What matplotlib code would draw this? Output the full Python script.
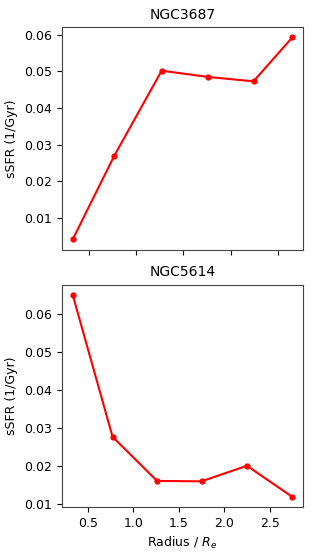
import matplotlib
matplotlib.use("Agg")
import matplotlib.pyplot as plt

radius_3687 = [0.33, 0.77, 1.27, 1.76, 2.24, 2.65]
ssfr_3687 = [0.0041, 0.0270, 0.0502, 0.0485, 0.0473, 0.0593]

radius_5614 = [0.33, 0.77, 1.26, 1.75, 2.25, 2.75]
ssfr_5614 = [0.0651, 0.0277, 0.0161, 0.0160, 0.0201, 0.0119]

W, H = 312, 554
fig = plt.figure(figsize=(W / 100, H / 100), dpi=100)

ax1 = fig.add_axes([61.7 / W, 1 - 249.6 / H, (303.3 - 61.7) / W, (249.6 - 27.3) / H])
ax2 = fig.add_axes([61.7 / W, 1 - 507 / H, (303.3 - 61.7) / W, (507 - 284.7) / H])

ax1.plot(radius_3687, ssfr_3687, color='red', marker='o', markersize=3.5, linewidth=1.5)
ax1.set_title('NGC3687', fontsize=10)
ax1.set_ylabel('sSFR (1/Gyr)', fontsize=9)
ax1.set_xticks([0.5, 1.0, 1.5, 2.0, 2.5])
ax1.set_xticklabels([])
ax1.set_yticks([0.01, 0.02, 0.03, 0.04, 0.05, 0.06])

ax2.plot(radius_5614, ssfr_5614, color='red', marker='o', markersize=3.5, linewidth=1.5)
ax2.set_title('NGC5614', fontsize=10)
ax2.set_ylabel('sSFR (1/Gyr)', fontsize=9)
ax2.set_xlabel('Radius / $R_e$', fontsize=9)
ax2.set_xticks([0.5, 1.0, 1.5, 2.0, 2.5])
ax2.set_yticks([0.01, 0.02, 0.03, 0.04, 0.05, 0.06])

for ax in (ax1, ax2):
    ax.tick_params(labelsize=9)
    for s in ax.spines.values():
        s.set_color('#444444')

fig.savefig("out.png", dpi=100)
